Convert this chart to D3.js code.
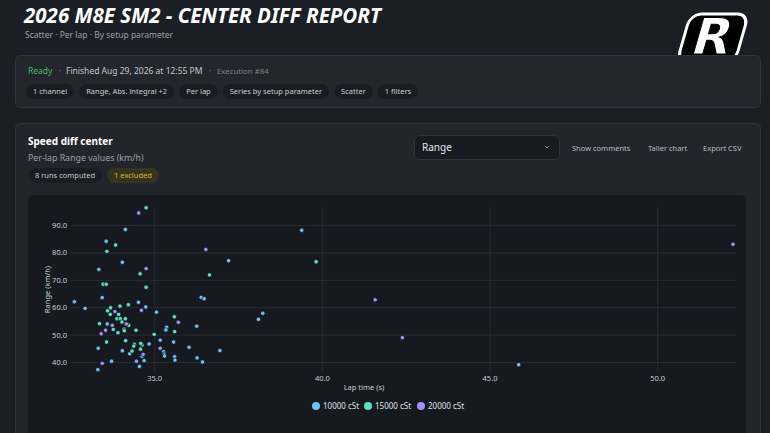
<!DOCTYPE html>
<html>
<head>
<meta charset="utf-8">
<script src="https://cdn.jsdelivr.net/npm/d3@7"></script>
<style>
  html, body { margin: 0; padding: 0; background: #1b1e24; overflow: hidden; }
  svg { display: block; font-family: "Noto Sans", "Open Sans", sans-serif; }
</style>
</head>
<body>
<div id="div_chart"></div>
<script>
// Series names and colours (setup parameter: diff oil)
var seriesNames = ["10000 cSt", "15000 cSt", "20000 cSt"];
var seriesColors = ["#6cc2f2", "#5fe0c3", "#a68ff4"];

// Lap times (s) and range values (km/h), per series
var lapTime10k = [32.62, 32.94, 33.45, 34.14, 33.57, 34.05, 33.35, 34.53, 34.75, 35.07, 33.60, 35.37, 35.35, 35.18,
  35.58, 34.64, 34.85, 33.33, 34.05, 34.27, 35.28, 35.30, 35.31, 34.64, 35.61, 35.62, 36.04, 33.73, 34.70, 34.56,
  33.32, 36.27, 36.28, 36.44, 36.96, 37.22, 39.40, 36.40, 36.49, 38.24, 38.11, 45.87];
var range10k = [62.0, 59.6, 63.5, 88.4, 84.1, 76.4, 73.8, 61.8, 60.1, 58.2, 53.9, 52.7, 51.7, 48.0,
  47.3, 46.2, 46.6, 45.0, 44.1, 43.0, 43.8, 42.9, 42.2, 42.1, 41.9, 40.7, 45.4, 40.3, 40.5, 38.4,
  37.2, 53.1, 41.5, 40.0, 44.2, 77.0, 88.1, 63.6, 63.1, 57.8, 55.6, 39.0];

var lapTime15k = [34.76, 33.85, 33.59, 34.58, 33.48, 33.57, 34.76, 33.70, 33.61, 33.98, 34.23, 33.69, 33.94, 33.89,
  33.99, 34.14, 34.04, 33.37, 34.24, 33.78, 34.10, 34.11, 33.92, 34.46, 35.60, 35.61, 35.00, 33.58, 34.15, 34.41,
  34.39, 34.60, 34.34, 34.59, 36.65, 39.83];
var range15k = [96.3, 82.7, 80.4, 72.2, 68.4, 68.4, 67.3, 59.8, 58.7, 60.4, 60.9, 57.4, 57.4, 55.8,
  55.8, 55.8, 54.6, 54.0, 53.4, 51.9, 52.0, 51.4, 50.7, 51.6, 56.5, 51.1, 50.1, 47.3, 47.8, 46.5,
  45.8, 46.8, 44.0, 44.7, 71.8, 76.6];

var lapTime20k = [34.54, 34.76, 33.83, 34.62, 33.75, 34.17, 33.55, 33.42, 35.72, 35.18, 34.67, 33.45, 34.47,
  36.54, 41.59, 42.40, 52.26];
var range20k = [94.4, 74.1, 58.4, 58.9, 53.4, 53.9, 51.6, 50.3, 54.5, 45.0, 42.8, 39.5, 40.3,
  81.1, 62.7, 48.9, 83.0];

// Axis ticks
var xTicks = [35, 40, 45, 50];
var yTicks = [40, 50, 60, 70, 80, 90];

// Header chips
var headerChips = ["1 channel", "Range, Abs. integral +2", "Per lap", "Series by setup parameter", "Scatter", "1 filters"];

var svgWidth = 770;
var svgHeight = 433;

var svg = d3.select("#div_chart")
  .append("svg")
    .attr("width", svgWidth)
    .attr("height", svgHeight)
    .attr("viewBox", [0, 0, svgWidth, svgHeight]);

svg.append("rect").attr("width", svgWidth).attr("height", svgHeight).attr("fill", "#1b1e24");

// Title block
svg.append("text")
  .attr("x", 24).attr("y", 23)
  .attr("fill", "#ffffff")
  .style("font-size", "20.5px").style("font-weight", 700).style("font-style", "italic")
  .text("2026 M8E SM2 - CENTER DIFF REPORT");

svg.append("text")
  .attr("x", 25).attr("y", 38)
  .attr("fill", "#9aa0aa")
  .style("font-size", "8.5px")
  .text("Scatter · Per lap · By setup parameter");

// Logo (top right)
var logo = svg.append("g").attr("transform", "translate(713,37) skewX(-16)");
logo.append("rect")
  .attr("x", -29).attr("y", -23).attr("width", 58).attr("height", 48).attr("rx", 11)
  .attr("fill", "#000").attr("stroke", "#fff").attr("stroke-width", 3);
logo.append("text")
  .attr("x", 0).attr("y", 17).attr("text-anchor", "middle")
  .attr("fill", "#fff").attr("stroke", "#000").attr("stroke-width", 1)
  .style("font-size", "50px").style("font-weight", 900).style("font-family", "'DejaVu Sans', sans-serif")
  .text("R");

// Status card
svg.append("rect")
  .attr("x", 15.5).attr("y", 55.5).attr("width", 745).attr("height", 52).attr("rx", 5)
  .attr("fill", "#23262d").attr("stroke", "#30343c");

var statusLine = svg.append("text").attr("y", 74).style("font-size", "8.5px");
statusLine.append("tspan").attr("x", 28).attr("fill", "#4cb860").text("Ready");
statusLine.append("tspan").attr("x", 59).attr("fill", "#6c717a").text("·");
statusLine.append("tspan").attr("x", 66).attr("fill", "#c4c8ce").text("Finished Aug 29, 2026 at 12:55 PM");
statusLine.append("tspan").attr("x", 209).attr("fill", "#6c717a").text("·");
statusLine.append("tspan").attr("x", 217).attr("fill", "#7b8088").style("font-size", "7.8px").text("Execution #84");

// Chip helper
function chipRow(group, labels, x0, y, textColor, bgColor) {
  var cx = x0;
  labels.forEach(function(label) {
    var g = group.append("g");
    var t = g.append("text")
      .attr("x", cx + 7).attr("y", y + 10)
      .attr("fill", textColor)
      .style("font-size", "7.5px")
      .text(label);
    var w = t.node().getComputedTextLength() + 14;
    g.insert("rect", "text")
      .attr("x", cx).attr("y", y).attr("width", w).attr("height", 15).attr("rx", 7.5)
      .attr("fill", bgColor);
    cx += w + 5;
  });
  return cx;
}

chipRow(svg.append("g"), headerChips, 26, 84, "#c9cdd3", "#191c22");

// Chart card
svg.append("rect")
  .attr("x", 15.5).attr("y", 123.5).attr("width", 745).attr("height", 330).attr("rx", 5)
  .attr("fill", "#22252c").attr("stroke", "#2e3239");

svg.append("text")
  .attr("x", 28).attr("y", 145)
  .attr("fill", "#ffffff")
  .style("font-size", "10px").style("font-weight", 700)
  .text("Speed diff center");

svg.append("text")
  .attr("x", 28).attr("y", 161)
  .attr("fill", "#9aa0aa")
  .style("font-size", "8.8px")
  .text("Per-lap Range values (km/h)");

var next = chipRow(svg.append("g"), ["8 runs computed"], 28, 168, "#c4c8ce", "#191c22");
chipRow(svg.append("g"), ["1 excluded"], next, 168, "#d9b83c", "#36331f");

// Dropdown
svg.append("rect")
  .attr("x", 414.5).attr("y", 135.5).attr("width", 145).attr("height", 24).attr("rx", 5)
  .attr("fill", "#171a20").attr("stroke", "#2e3239");
svg.append("text")
  .attr("x", 422).attr("y", 151)
  .attr("fill", "#e6e8eb")
  .style("font-size", "10px")
  .text("Range");
svg.append("path")
  .attr("d", "M545,146 L547,148 L549,146")
  .attr("fill", "none").attr("stroke", "#9aa0aa").attr("stroke-width", 0.8);

// Toolbar links
[["Show comments", 572], ["Taller chart", 648], ["Export CSV", 703]].forEach(function(d) {
  svg.append("text")
    .attr("x", d[1]).attr("y", 151)
    .attr("fill", "#b8bcc3")
    .style("font-size", "7.5px")
    .text(d[0]);
});

// Plot panel
svg.append("rect")
  .attr("x", 28).attr("y", 195).attr("width", 718).attr("height", 250).attr("rx", 5)
  .attr("fill", "#161a20");

// Scales
var plot = {left: 70, right: 736, top: 207, bottom: 372};
var x = d3.scaleLinear().domain([32.49, 52.35]).range([plot.left, plot.right]);
var y = d3.scaleLinear().domain([36.35, 96.6]).range([plot.bottom, plot.top]);
var fmt = d3.format(".1f");

// Axes with gridlines
var yAxis = svg.append("g")
  .attr("transform", "translate(" + plot.left + ",0)")
  .call(d3.axisLeft(y).tickValues(yTicks).tickFormat(fmt)
    .tickSize(-(plot.right - plot.left)).tickPadding(3));
var xAxis = svg.append("g")
  .attr("transform", "translate(0," + plot.bottom + ")")
  .call(d3.axisBottom(x).tickValues(xTicks).tickFormat(fmt)
    .tickSize(-(plot.bottom - plot.top)).tickPadding(4));

[xAxis, yAxis].forEach(function(a) {
  a.select(".domain").remove();
  a.selectAll(".tick line").attr("stroke", "#2a2e36").attr("stroke-width", 0.8);
  a.selectAll(".tick text")
    .attr("fill", "#c8ccd2")
    .style("font-size", "7.5px")
    .style("font-family", "'Noto Sans', sans-serif");
});

// Axis titles
svg.append("text")
  .attr("transform", "translate(50," + ((plot.top + plot.bottom) / 2) + ") rotate(-90)")
  .attr("text-anchor", "middle")
  .attr("fill", "#c8ccd2")
  .style("font-size", "7.5px")
  .text("Range (km/h)");

svg.append("text")
  .attr("x", 364).attr("y", 390)
  .attr("text-anchor", "middle")
  .attr("fill", "#c8ccd2")
  .style("font-size", "7.5px")
  .text("Lap time (s)");

// Points
var series = [
  {name: seriesNames[0], color: seriesColors[0], xs: lapTime10k, ys: range10k},
  {name: seriesNames[1], color: seriesColors[1], xs: lapTime15k, ys: range15k},
  {name: seriesNames[2], color: seriesColors[2], xs: lapTime20k, ys: range20k}
];

series.forEach(function(s) {
  svg.append("g")
    .selectAll("circle")
    .data(d3.zip(s.xs, s.ys))
    .join("circle")
      .attr("cx", d => x(d[0]))
      .attr("cy", d => y(d[1]))
      .attr("r", 2.2)
      .attr("fill", s.color)
      .attr("stroke", "#0c0f14")
      .attr("stroke-width", 0.7);
});

// Legend
var legendX = [316, 368, 421];
var legend = svg.append("g");
series.forEach(function(s, i) {
  legend.append("circle")
    .attr("cx", legendX[i]).attr("cy", 406).attr("r", 4)
    .attr("fill", s.color);
  legend.append("text")
    .attr("x", legendX[i] + 7).attr("y", 409)
    .attr("fill", "#dfe2e6")
    .style("font-size", "8px")
    .text(s.name);
});
</script>
</body>
</html>
